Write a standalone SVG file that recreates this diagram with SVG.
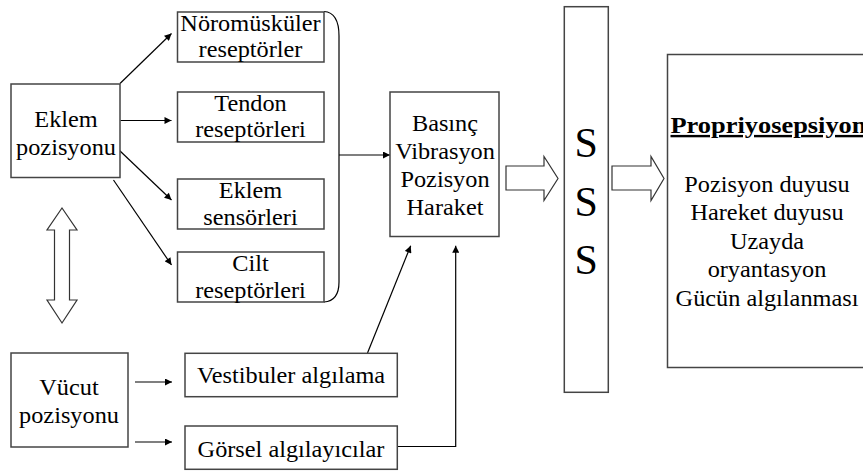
<svg xmlns="http://www.w3.org/2000/svg" width="863" height="472" viewBox="0 0 863 472">
<style>
.box{fill:#fff;stroke:#444;stroke-width:1.5}
.ln{fill:none;stroke:#000;stroke-width:1.2}
.blk{fill:#fff;stroke:#333;stroke-width:1.2}
.t{font-size:22.5px;fill:#000;text-anchor:middle}
.s{font-size:42px}
.h{font-weight:bold;font-size:24px;text-anchor:start;text-decoration:underline}
</style>
<defs>
<marker id="ah" viewBox="0 0 10 10" refX="10" refY="5" markerWidth="8" markerHeight="7" orient="auto" markerUnits="userSpaceOnUse">
<path d="M0,0 L10,5 L0,10 z" fill="#000"/>
</marker>
</defs>
<rect width="863" height="472" fill="#fff"/>

<g id="connectors">
<line class="ln" x1="120" y1="83.5" x2="171.5" y2="33.5" marker-end="url(#ah)"/>
<line class="ln" x1="120.5" y1="120.5" x2="171.5" y2="120.5" marker-end="url(#ah)"/>
<line class="ln" x1="119" y1="150" x2="171.5" y2="200" marker-end="url(#ah)"/>
<line class="ln" x1="113.5" y1="180" x2="171.5" y2="265" marker-end="url(#ah)"/>
<path class="ln" d="M324,11.5 Q339,12.5 339,36 L339,282 Q339,301 324,302"/>
<line class="ln" x1="339" y1="155" x2="390" y2="155" marker-end="url(#ah)"/>
<line class="ln" x1="135" y1="382" x2="172" y2="382" marker-end="url(#ah)"/>
<line class="ln" x1="135" y1="442" x2="172" y2="442" marker-end="url(#ah)"/>
<line class="ln" x1="367.5" y1="353" x2="410.7" y2="245.7" marker-end="url(#ah)"/>
<polyline class="ln" points="397,446.5 455.7,446.5 455.7,245.7" marker-end="url(#ah)"/>
<path class="blk" d="M62,208 L77,230 L69.5,230 L69.5,300 L77,300 L62,323 L47,300 L54.5,300 L54.5,230 L47,230 Z"/>
<path class="blk" d="M506,166 L544,166 L544,156.5 L558,178.5 L544,200.5 L544,190 L506,190 Z"/>
<path class="blk" d="M612,166 L651,166 L651,156.5 L664,178.5 L651,200.5 L651,190 L612,190 Z"/>
</g>

<g font-family="Liberation Serif">
<g id="eklem-pozisyonu">
<rect class="box" x="11" y="84" width="109" height="93.5"/>
<text class="t" transform="translate(66,0) scale(1.08,1)"><tspan x="0" y="127">Eklem</tspan><tspan x="0" y="155">pozisyonu</tspan></text>
</g>

<g id="noromuskuler">
<rect class="box" x="177.5" y="12" width="146.5" height="50"/>
<text class="t" transform="translate(250.5,0) scale(1.08,1)"><tspan x="0" y="31">Nöromüsküler</tspan><tspan x="0" y="57">reseptörler</tspan></text>
</g>

<g id="tendon">
<rect class="box" x="177.5" y="92" width="146.5" height="50"/>
<text class="t" transform="translate(250.5,0) scale(1.08,1)"><tspan x="0" y="111.5">Tendon</tspan><tspan x="0" y="137.5">reseptörleri</tspan></text>
</g>

<g id="eklem-sensorleri">
<rect class="box" x="177.5" y="179" width="146.5" height="50"/>
<text class="t" transform="translate(250.5,0) scale(1.08,1)"><tspan x="0" y="198.5">Eklem</tspan><tspan x="0" y="225">sensörleri</tspan></text>
</g>

<g id="cilt">
<rect class="box" x="177.5" y="252" width="146.5" height="50"/>
<text class="t" transform="translate(250.5,0) scale(1.08,1)"><tspan x="0" y="271.5">Cilt</tspan><tspan x="0" y="298">reseptörleri</tspan></text>
</g>

<g id="basinc">
<rect class="box" x="390" y="92" width="109" height="144.5"/>
<text class="t" transform="translate(445,0) scale(1.08,1)"><tspan x="0" y="131">Basınç</tspan><tspan x="0" y="159">Vibrasyon</tspan><tspan x="0" y="187">Pozisyon</tspan><tspan x="0" y="215">Haraket</tspan></text>
</g>

<g id="sss">
<rect class="box" x="564.3" y="6.7" width="44" height="385.6"/>
<text class="t s" x="586.3" y="157">S</text>
<text class="t s" x="586.3" y="216">S</text>
<text class="t s" x="586.3" y="274">S</text>
</g>

<g id="propriyosepsiyon">
<rect class="box" x="667.5" y="54.5" width="220" height="313"/>
<text class="t h" transform="translate(670.5,133) scale(1.1,1)" x="0" y="0">Propriyosepsiyon</text>
<text class="t" transform="translate(767,0) scale(1.08,1)"><tspan x="0" y="192">Pozisyon duyusu</tspan><tspan x="0" y="220.5">Hareket duyusu</tspan><tspan x="0" y="249">Uzayda</tspan><tspan x="0" y="277.5">oryantasyon</tspan><tspan x="0" y="306">Gücün algılanması</tspan></text>
</g>

<g id="vucut-pozisyonu">
<rect class="box" x="11" y="353" width="117" height="94"/>
<text class="t" transform="translate(69,0) scale(1.08,1)"><tspan x="0" y="395">Vücut</tspan><tspan x="0" y="423">pozisyonu</tspan></text>
</g>

<g id="vestibuler">
<rect class="box" x="185" y="353.3" width="212.3" height="43.4"/>
<text class="t" transform="translate(291,0) scale(1.08,1)"><tspan x="0" y="383.5">Vestibuler algılama</tspan></text>
</g>

<g id="gorsel">
<rect class="box" x="185" y="426" width="212.3" height="43.3"/>
<text class="t" transform="translate(291,0) scale(1.08,1)"><tspan x="0" y="457">Görsel algılayıcılar</tspan></text>
</g>
</g>
</svg>
